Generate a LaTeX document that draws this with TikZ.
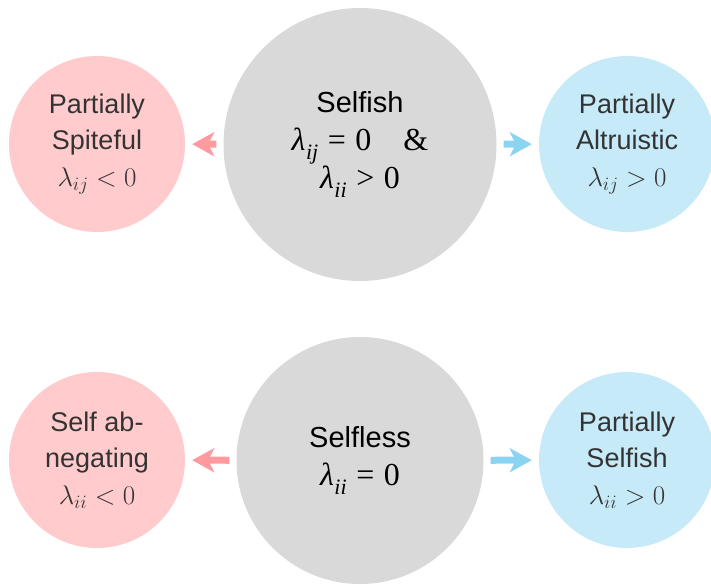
\RequirePackage{fix-cm}
\documentclass[tikz,border=0pt]{standalone}
\usepackage{fontspec}
\setmainfont{Liberation Sans}
\newfontfamily\tms{Liberation Serif}
\usetikzlibrary{arrows.meta}

\definecolor{spite}{HTML}{FFCBCC}
\definecolor{spitearrow}{HTML}{FF9A9E}
\definecolor{altru}{HTML}{C7EAF9}
\definecolor{altruarrow}{HTML}{8AD4F2}
\definecolor{neutral}{HTML}{D9D9D9}
\definecolor{sidetext}{HTML}{333333}

% Times-style lambda with an italic subscript
\newcommand\tlam[1]{{\fontsize{32}{32}\selectfont\tms\itshape λ}\kern0.5pt\raisebox{-0.3em}{\fontsize{22}{22}\selectfont\tms\itshape #1}}
\newcommand\trel[2]{{\fontsize{32}{32}\selectfont\tms\kern0.3em#1\kern0.3em#2}}

\tikzset{
  sidecircle/.style={circle, inner sep=0pt, minimum size=176pt, align=center,
    text=sidetext, font=\fontsize{27}{36.5}\selectfont},
  bigcircle/.style={circle, inner sep=0pt, fill=neutral, align=center,
    font=\fontsize{29}{38}\selectfont},
  fatarrow/.style={line width=7pt, shorten <=7pt, shorten >=7pt,
    -{Stealth[length=22pt, width=24pt, inset=6pt]}},
}

\begin{document}
\begin{tikzpicture}[x=1pt, y=-1pt]
  \useasboundingbox (0,0) rectangle (711,585);

  % upper row
  \node[bigcircle, minimum size=273pt] (selfish) at (360,144.5)
    {Selfish\\
     \tlam{ij}\trel{=}{0}\hspace{1.1em}{\fontsize{32}{32}\selectfont\tms\&}\\
     \tlam{ii}\trel{>}{0}};
  \node[sidecircle, fill=spite] (spiteful) at (97,144)
    {Partially\\Spiteful\\$\lambda_{ij}<0$};
  \node[sidecircle, fill=altru] (altruistic) at (627,144)
    {Partially\\Altruistic\\$\lambda_{ij}>0$};

  % lower row
  \node[bigcircle, minimum size=247pt] (selfless) at (360,460.5)
    {Selfless\\\tlam{ii}\trel{=}{0}};
  \node[sidecircle, fill=spite] (abnegating) at (97,460)
    {Self ab-\\negating\\$\lambda_{ii}<0$};
  \node[sidecircle, fill=altru] (pselfish) at (627,460)
    {Partially\\Selfish\\$\lambda_{ii}>0$};

  % deviations from the neutral states
  \draw[fatarrow, spitearrow] (selfish) -- (spiteful);
  \draw[fatarrow, altruarrow] (selfish) -- (altruistic);
  \draw[fatarrow, spitearrow] (selfless) -- (abnegating);
  \draw[fatarrow, altruarrow] (selfless) -- (pselfish);
\end{tikzpicture}
\end{document}
